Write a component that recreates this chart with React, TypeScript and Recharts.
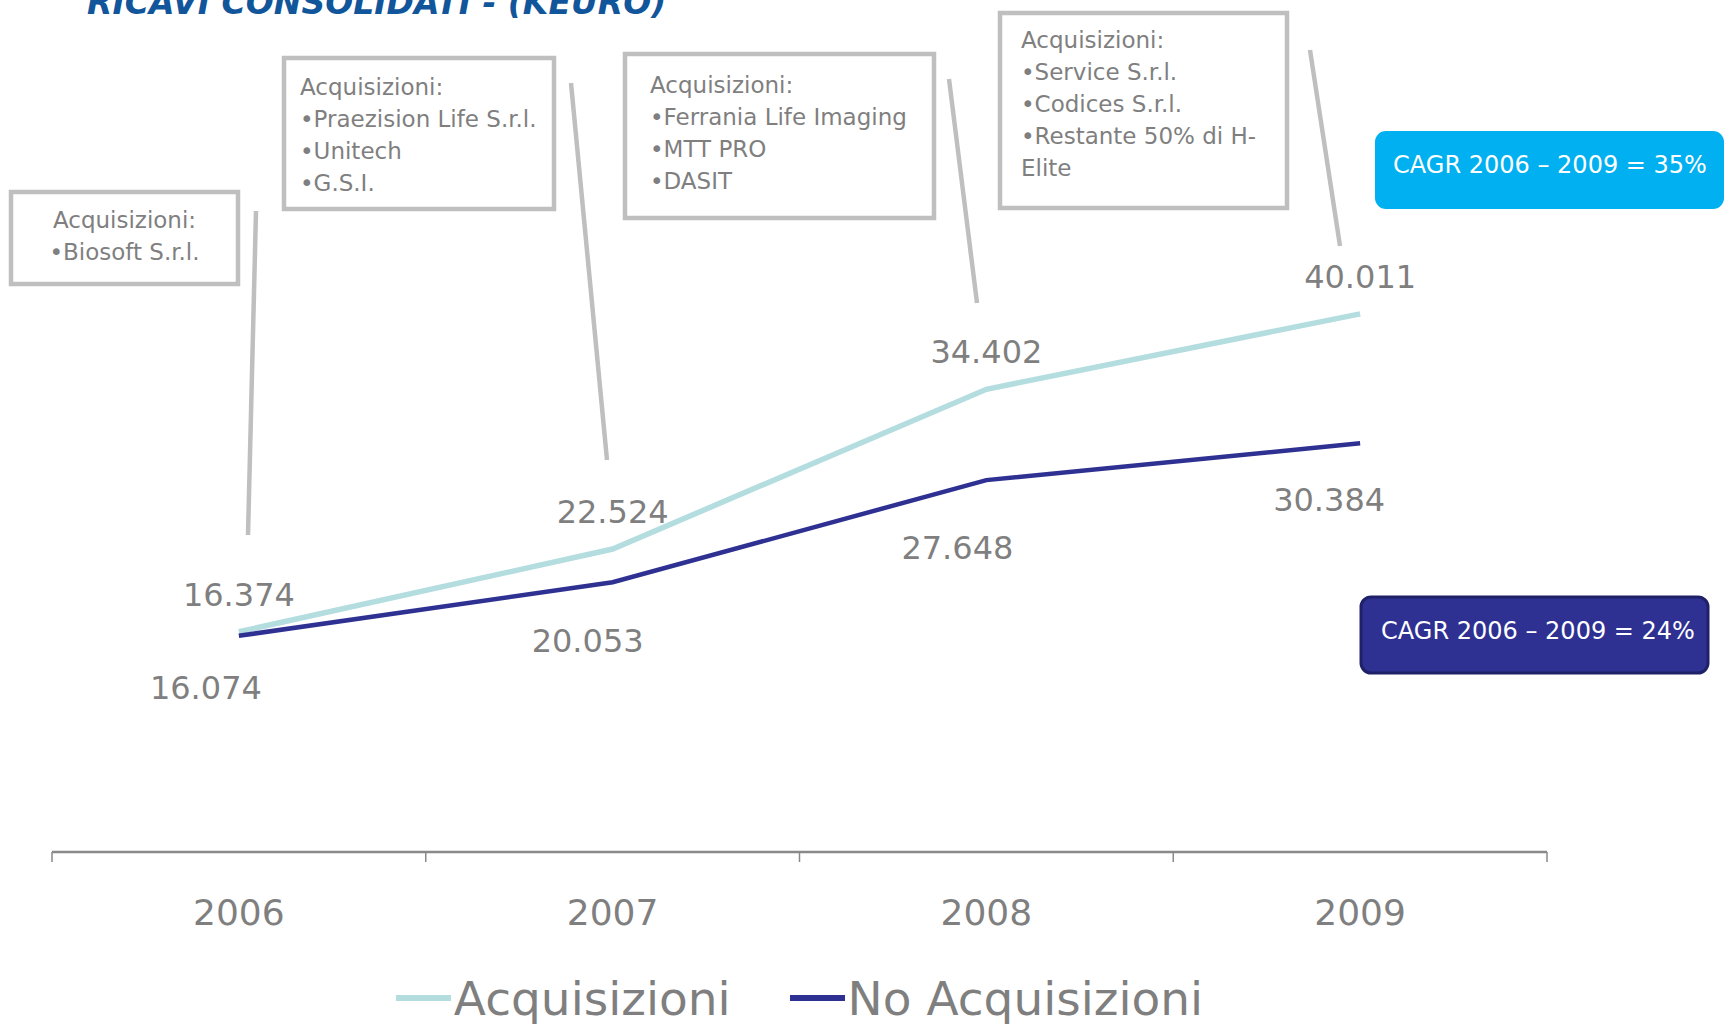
import { LineChart, Line, XAxis, YAxis, Legend, LabelList } from 'recharts';

const years = ['2006', '2007', '2008', '2009'];
const acquisizioni = [16374, 22524, 34402, 40011];
const noAcquisizioni = [16074, 20053, 27648, 30384];

const box1 = ['Acquisizioni:', '•Biosoft S.r.l.'];
const box2 = ['Acquisizioni:', '•Praezision Life S.r.l.', '•Unitech', '•G.S.I.'];
const box3 = ['Acquisizioni:', '•Ferrania Life Imaging', '•MTT PRO', '•DASIT'];
const box4 = ['Acquisizioni:', '•Service S.r.l.', '•Codices S.r.l.', '•Restante 50% di H-', 'Elite'];
const cagrAcq = 'CAGR 2006 – 2009 = 35%';
const cagrNoAcq = 'CAGR 2006 – 2009 = 24%';
const title = 'RICAVI CONSOLIDATI - (KEURO)';

const W = 1725;
const H = 1024;
const MARGIN = { top: 45, right: 178, bottom: 0, left: 52 };
const PLOT_W = W - MARGIN.left - MARGIN.right;
const BAND = PLOT_W / years.length;
const FONT = '"DejaVu Sans", Verdana, sans-serif';
const GRAY = '#7f7f7f';
const ACQ_COLOR = '#b4dde0';
const NOACQ_COLOR = '#2e3192';

// per-label offsets for the "No Acquisizioni" values (they sit below/left of the points)
const noAcqOffsets = [
  [-33, 52],
  [-25, 59],
  [-29, 68],
  [-31, 57],
];

const data = years.map((year, i) => ({
  year,
  acq: acquisizioni[i],
  noAcq: noAcquisizioni[i],
}));

function fmt(v: number): string {
  return String(v).replace(/\B(?=(\d{3})+(?!\d))/g, '.');
}

function AcqLabel(props: any) {
  const { x, y, value } = props;
  return (
    <text x={x} y={y - 37} textAnchor="middle" dominantBaseline="central" fill={GRAY} fontSize={32} fontFamily={FONT}>
      {fmt(Number(value))}
    </text>
  );
}

function NoAcqLabel(props: any) {
  const { x, y, value, index } = props;
  const [dx, dy] = noAcqOffsets[index] ?? [-30, 58];
  return (
    <text x={x + dx} y={y + dy} textAnchor="middle" dominantBaseline="central" fill={GRAY} fontSize={32} fontFamily={FONT}>
      {fmt(Number(value))}
    </text>
  );
}

function YearTick(props: any) {
  const { x, y, payload, index } = props;
  const left = x - BAND / 2;
  return (
    <g>
      <line x1={left} x2={left} y1={y} y2={y + 10} stroke="#898989" strokeWidth={1.5} />
      {index === years.length - 1 && (
        <line x1={x + BAND / 2} x2={x + BAND / 2} y1={y} y2={y + 10} stroke="#898989" strokeWidth={1.5} />
      )}
      <text x={x} y={y + 60} textAnchor="middle" dominantBaseline="central" fill={GRAY} fontSize={36} fontFamily={FONT}>
        {payload.value}
      </text>
    </g>
  );
}

function renderLegend() {
  const items = [
    { name: 'Acquisizioni', color: ACQ_COLOR },
    { name: 'No Acquisizioni', color: NOACQ_COLOR },
  ];
  return (
    <div
      style={{
        display: 'flex',
        justifyContent: 'center',
        alignItems: 'center',
        width: PLOT_W,
        marginLeft: MARGIN.left,
        height: 72,
        paddingTop: 20,
        boxSizing: 'border-box',
      }}
    >
      {items.map((item, i) => (
        <div key={item.name} style={{ display: 'flex', alignItems: 'center', marginLeft: i === 0 ? 0 : 59 }}>
          <div style={{ width: 55, height: 6, background: item.color, marginRight: 3 }} />
          <span style={{ fontFamily: FONT, fontSize: 47, color: GRAY, lineHeight: 1 }}>{item.name}</span>
        </div>
      ))}
    </div>
  );
}

function NoteBox({ x, y, w, h, lines, tx, ty, center }: any) {
  return (
    <g>
      <rect x={x} y={y} width={w} height={h} fill="#fff" stroke="#bfbfbf" strokeWidth={4.5} />
      {lines.map((line: string, i: number) => (
        <text
          key={i}
          x={center ? x + w / 2 : tx}
          y={ty + i * 32}
          textAnchor={center ? 'middle' : 'start'}
          dominantBaseline="central"
          fill={GRAY}
          fontSize={23}
          fontFamily={FONT}
        >
          {line}
        </text>
      ))}
    </g>
  );
}

function Annotations() {
  const leader = { stroke: '#bfbfbf', strokeWidth: 4.5 };
  return (
    <svg width={W} height={H} style={{ position: 'absolute', left: 0, top: 0, pointerEvents: 'none' }}>
      <text x={87} y={14} fill="#11559b" fontSize={33} fontWeight="bold" fontStyle="italic" fontFamily={FONT}>
        {title}
      </text>

      <line x1={256} y1={211} x2={248} y2={535} {...leader} />
      <line x1={571} y1={83} x2={607} y2={460} {...leader} />
      <line x1={949} y1={79} x2={977} y2={303} {...leader} />
      <line x1={1310} y1={50} x2={1340} y2={246} {...leader} />

      <NoteBox x={11} y={192} w={227} h={92} lines={box1} ty={220} center />
      <NoteBox x={284} y={58} w={270} h={151} lines={box2} tx={300} ty={87} />
      <NoteBox x={625} y={54} w={309} h={164} lines={box3} tx={650} ty={85} />
      <NoteBox x={1000} y={13} w={287} h={195} lines={box4} tx={1021} ty={40} />

      <rect x={1375} y={131} width={349} height={78} rx={11} fill="#00b0f0" />
      <text x={1550} y={165} textAnchor="middle" dominantBaseline="central" fill="#fff" fontSize={24} fontFamily={FONT}>
        {cagrAcq}
      </text>

      <rect x={1361} y={597} width={347} height={76} rx={10} fill="#2e3192" stroke="#1f2168" strokeWidth={3} />
      <text x={1538} y={631} textAnchor="middle" dominantBaseline="central" fill="#fff" fontSize={24} fontFamily={FONT}>
        {cagrNoAcq}
      </text>
    </svg>
  );
}

export default function App() {
  return (
    <div style={{ position: 'absolute', left: 0, top: 0, width: W, height: H, background: '#fff', overflow: 'hidden' }}>
      <LineChart width={W} height={H} data={data} margin={MARGIN}>
        <XAxis
          dataKey="year"
          height={100}
          padding={{ left: BAND / 2, right: BAND / 2 }}
          tickSize={0}
          tickMargin={0}
          tickLine={false}
          axisLine={{ stroke: '#898989', strokeWidth: 2.5 }}
          tick={<YearTick />}
          interval={0}
        />
        <YAxis hide domain={[0, 60000]} />
        <Legend verticalAlign="bottom" content={renderLegend} wrapperStyle={{ left: 0, bottom: 0, width: W, height: 72 }} />
        <Line
          type="linear"
          dataKey="acq"
          name="Acquisizioni"
          stroke={ACQ_COLOR}
          strokeWidth={5.5}
          dot={false}
          activeDot={false}
          isAnimationActive={false}
        >
          <LabelList dataKey="acq" content={<AcqLabel />} />
        </Line>
        <Line
          type="linear"
          dataKey="noAcq"
          name="No Acquisizioni"
          stroke={NOACQ_COLOR}
          strokeWidth={4.5}
          dot={false}
          activeDot={false}
          isAnimationActive={false}
        >
          <LabelList dataKey="noAcq" content={<NoAcqLabel />} />
        </Line>
      </LineChart>
      <Annotations />
    </div>
  );
}
